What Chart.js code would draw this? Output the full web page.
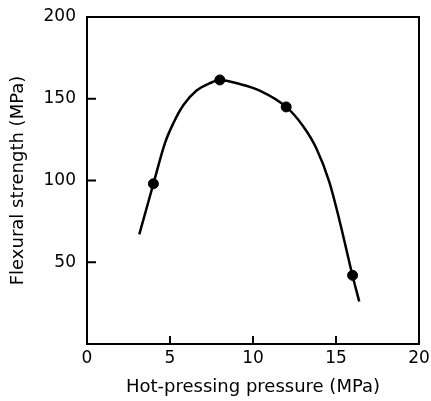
<!DOCTYPE html>
<html>
<head>
<meta charset="utf-8">
<script src="https://cdn.jsdelivr.net/npm/chart.js@4"></script>
<style>
  html, body { margin: 0; padding: 0; background: #fff; }
  #wrap { width: 431px; height: 401px; }
</style>
</head>
<body>
<div id="wrap"><canvas id="chart" width="431" height="401"></canvas></div>
<script>
// measured points
const pressure = [4, 8, 12, 16];
const strength = [98, 161.5, 145, 42];

// fitted curve
const curveX = [3.15, 4.0, 4.7, 5.2, 5.8, 6.6, 7.4, 8.0, 9.2, 10.4, 12.0, 13.0, 13.8, 14.6, 15.2, 16.0, 16.4];
const curveY = [67, 98, 123, 135, 146, 155, 159.5, 161.5, 159, 155, 145, 133.5, 120, 99, 76, 41.6, 26];

const xTicks = [0, 5, 10, 15, 20];
const yTicks = [50, 100, 150, 200];

const font = "'DejaVu Sans', sans-serif";

// frame box and inward tick marks
const framePlugin = {
  id: 'frame',
  afterDraw(chart) {
    const { ctx, chartArea: a, scales } = chart;
    ctx.save();
    ctx.strokeStyle = '#000';
    ctx.lineWidth = 2;
    ctx.strokeRect(a.left, a.top, a.right - a.left, a.bottom - a.top);
    ctx.beginPath();
    xTicks.slice(1, -1).forEach(v => {
      const px = scales.x.getPixelForValue(v);
      ctx.moveTo(px, a.bottom);
      ctx.lineTo(px, a.bottom - 8);
    });
    yTicks.slice(0, -1).forEach(v => {
      const py = scales.y.getPixelForValue(v);
      ctx.moveTo(a.left, py);
      ctx.lineTo(a.left + 9, py);
    });
    ctx.stroke();
    ctx.restore();
  }
};

new Chart(document.getElementById('chart'), {
  type: 'scatter',
  data: {
    datasets: [
      {
        data: curveX.map((x, i) => ({ x, y: curveY[i] })),
        showLine: true,
        borderColor: '#000',
        borderWidth: 2.5,
        pointRadius: 0,
        cubicInterpolationMode: 'monotone'
      },
      {
        data: pressure.map((x, i) => ({ x, y: strength[i] })),
        backgroundColor: '#000',
        borderColor: '#000',
        pointRadius: 5
      }
    ]
  },
  options: {
    responsive: false,
    animation: false,
    layout: { padding: { left: 0, top: 17, right: 12, bottom: 0 } },
    plugins: { legend: { display: false }, tooltip: { enabled: false } },
    scales: {
      x: {
        type: 'linear',
        min: 0,
        max: 20,
        afterBuildTicks: s => { s.ticks = xTicks.map(v => ({ value: v })); },
        afterFit: s => { s.height = 57; s.paddingRight = 0; s.paddingLeft = 0; },
        grid: { display: false },
        border: { display: false },
        ticks: { color: '#000', font: { family: font, size: 17 }, padding: -4, maxRotation: 0 },
        title: {
          display: true,
          text: 'Hot-pressing pressure (MPa)',
          color: '#000',
          font: { family: font, size: 18 },
          padding: { top: 0, bottom: 3 }
        }
      },
      y: {
        type: 'linear',
        min: 0,
        max: 200,
        afterBuildTicks: s => { s.ticks = yTicks.map(v => ({ value: v })); },
        afterFit: s => { s.width = 87; },
        grid: { display: false },
        border: { display: false },
        ticks: { color: '#000', font: { family: font, size: 17 }, padding: 3 },
        title: {
          display: true,
          text: 'Flexural strength (MPa)',
          color: '#000',
          font: { family: font, size: 18 },
          padding: { top: 8, bottom: 0 }
        }
      }
    }
  },
  plugins: [framePlugin]
});
</script>
</body>
</html>
